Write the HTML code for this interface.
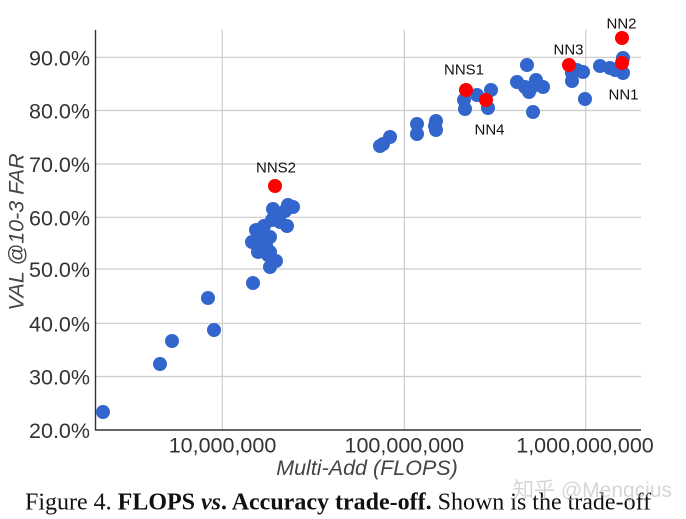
<!DOCTYPE html>
<html>
<head>
<meta charset="utf-8">
<style>
html,body{margin:0;padding:0;background:#fff;}
body{width:686px;height:519px;overflow:hidden;}
svg{display:block;}
</style>
</head>
<body>
<svg width="686" height="519" viewBox="0 0 686 519" xmlns="http://www.w3.org/2000/svg">
<rect width="686" height="519" fill="#fff"/>
<g stroke="#cccccc" stroke-width="1.2">
  <line x1="95.5" y1="57.3" x2="641" y2="57.3"/>
  <line x1="95.5" y1="110.5" x2="641" y2="110.5"/>
  <line x1="95.5" y1="164" x2="641" y2="164"/>
  <line x1="95.5" y1="217.3" x2="641" y2="217.3"/>
  <line x1="95.5" y1="269" x2="641" y2="269"/>
  <line x1="95.5" y1="323.3" x2="641" y2="323.3"/>
  <line x1="95.5" y1="376.5" x2="641" y2="376.5"/>
  <line x1="222.3" y1="30" x2="222.3" y2="430"/>
  <line x1="404.3" y1="30" x2="404.3" y2="430"/>
  <line x1="585.7" y1="30" x2="585.7" y2="430"/>
</g>
<g stroke="#333" stroke-width="1.4">
  <line x1="95.5" y1="30" x2="95.5" y2="430.5"/>
  <line x1="95" y1="430" x2="641" y2="430"/>
</g>
<g font-family="Liberation Sans, Arial, sans-serif" font-size="21.5" fill="#333" text-anchor="end">
  <text x="90" y="65.3">90.0%</text>
  <text x="90" y="118.5">80.0%</text>
  <text x="90" y="172">70.0%</text>
  <text x="90" y="225.3">60.0%</text>
  <text x="90" y="277">50.0%</text>
  <text x="90" y="331.3">40.0%</text>
  <text x="90" y="384.5">30.0%</text>
  <text x="90" y="438">20.0%</text>
</g>
<g font-family="Liberation Sans, Arial, sans-serif" font-size="21.5" fill="#333" text-anchor="middle">
  <text x="222.5" y="452.5">10,000,000</text>
  <text x="404.3" y="452.5">100,000,000</text>
  <text x="585" y="452.5">1,000,000,000</text>
</g>
<text x="367" y="475" font-family="Liberation Sans, Arial, sans-serif" font-size="21.5" font-style="italic" fill="#444" text-anchor="middle">Multi-Add (FLOPS)</text>
<text transform="translate(23.5,232) rotate(-90)" font-family="Liberation Sans, Arial, sans-serif" font-size="21.5" font-style="italic" fill="#444" text-anchor="middle">VAL @10-3 FAR</text>
<g fill="#3366cc">
  <circle cx="103" cy="412" r="7"/>
  <circle cx="160" cy="364" r="7"/>
  <circle cx="172" cy="341" r="7"/>
  <circle cx="208" cy="298" r="7"/>
  <circle cx="214" cy="330" r="7"/>
  <circle cx="253" cy="283" r="7"/>
  <circle cx="288" cy="205" r="7"/>
  <circle cx="293" cy="207" r="7"/>
  <circle cx="285" cy="211" r="7"/>
  <circle cx="273" cy="209" r="7"/>
  <circle cx="278" cy="214" r="7"/>
  <circle cx="272" cy="220" r="7"/>
  <circle cx="280" cy="222" r="7"/>
  <circle cx="287" cy="226" r="7"/>
  <circle cx="264" cy="226" r="7"/>
  <circle cx="256" cy="230" r="7"/>
  <circle cx="262" cy="233" r="7"/>
  <circle cx="252" cy="242" r="7"/>
  <circle cx="260" cy="240" r="7"/>
  <circle cx="270" cy="237" r="7"/>
  <circle cx="266" cy="245" r="7"/>
  <circle cx="258" cy="252" r="7"/>
  <circle cx="262" cy="250" r="7"/>
  <circle cx="270" cy="252" r="7"/>
  <circle cx="276" cy="261" r="7"/>
  <circle cx="270" cy="267" r="7"/>
  <circle cx="268" cy="255" r="7"/>
  <circle cx="380" cy="146" r="7"/>
  <circle cx="383" cy="144" r="7"/>
  <circle cx="390" cy="137" r="7"/>
  <circle cx="417" cy="124" r="7"/>
  <circle cx="417" cy="134" r="7"/>
  <circle cx="436" cy="121" r="7"/>
  <circle cx="436" cy="130" r="7"/>
  <circle cx="435" cy="126" r="7"/>
  <circle cx="464" cy="100" r="7"/>
  <circle cx="465" cy="109" r="7"/>
  <circle cx="477" cy="95" r="7"/>
  <circle cx="491" cy="90" r="7"/>
  <circle cx="488" cy="108" r="7"/>
  <circle cx="527" cy="65" r="7"/>
  <circle cx="517" cy="82" r="7"/>
  <circle cx="536" cy="80" r="7"/>
  <circle cx="532" cy="87" r="7"/>
  <circle cx="543" cy="87" r="7"/>
  <circle cx="525" cy="87" r="7"/>
  <circle cx="529" cy="92" r="7"/>
  <circle cx="533" cy="112" r="7"/>
  <circle cx="572" cy="73" r="7"/>
  <circle cx="572" cy="81" r="7"/>
  <circle cx="577" cy="70" r="7"/>
  <circle cx="583" cy="72" r="7"/>
  <circle cx="585" cy="99" r="7"/>
  <circle cx="600" cy="66" r="7"/>
  <circle cx="610" cy="68" r="7"/>
  <circle cx="615" cy="70" r="7"/>
  <circle cx="623" cy="58" r="7"/>
  <circle cx="623" cy="73" r="7"/>
</g>
<g fill="#ff0000">
  <circle cx="275" cy="186" r="7"/>
  <circle cx="466" cy="90" r="7"/>
  <circle cx="486" cy="100" r="7"/>
  <circle cx="569" cy="65" r="7"/>
  <circle cx="622" cy="38" r="7"/>
  <circle cx="622" cy="63" r="7"/>
</g>
<g font-family="Liberation Sans, Arial, sans-serif" font-size="15" fill="#111" text-anchor="middle">
  <text x="276" y="172.5">NNS2</text>
  <text x="464" y="74.5">NNS1</text>
  <text x="489.5" y="134.5">NN4</text>
  <text x="568.5" y="54.5">NN3</text>
  <text x="621.5" y="28.5">NN2</text>
  <text x="623.5" y="99.5">NN1</text>
</g>
<text x="25" y="509.5" font-family="Liberation Serif, Times New Roman, serif" font-size="24" fill="#111">Figure 4. <tspan font-weight="bold">FLOPS </tspan><tspan font-weight="bold" font-style="italic">vs</tspan><tspan font-weight="bold">. Accuracy trade-off.</tspan> Shown is the trade-off</text>
<text x="513" y="497" font-family="Liberation Sans, Noto Sans CJK SC, sans-serif" font-size="21" fill="#bbbbbb" fill-opacity="0.6">知乎 @Mengcius</text>
</svg>
</body>
</html>
